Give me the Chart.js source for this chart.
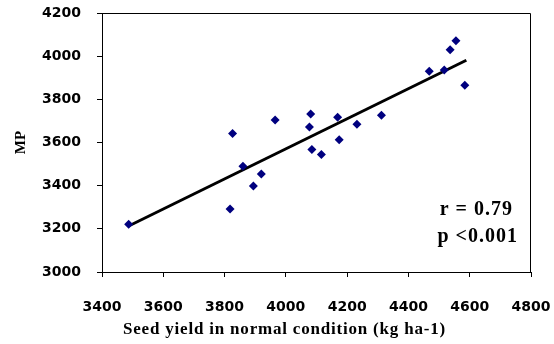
<!DOCTYPE html>
<html>
<head>
<meta charset="utf-8">
<script src="https://cdn.jsdelivr.net/npm/chart.js@4/dist/chart.umd.min.js"></script>
<style>
  body { margin: 0; background: #fff; }
  canvas { display: block; }
</style>
</head>
<body>
<canvas id="mpChart" width="554" height="344"></canvas>
<script>
// seed yield (normal condition) vs MP
const seedYield = [3487, 3826, 3818, 3860, 3894, 3920, 3965, 4077, 4081, 4085,
                   4116, 4169, 4174, 4232, 4312, 4468, 4517, 4536, 4555, 4584];
const mpValues  = [3221, 3642, 3292, 3490, 3398, 3454, 3704, 3672, 3732, 3567,
                   3544, 3717, 3613, 3684, 3726, 3930, 3936, 4030, 4072, 3865];

// regression line end points
const fitX = [3487, 4589];
const fitY = [3213, 3981];

const xTicks = [3400, 3600, 3800, 4000, 4200, 4400, 4600, 4800];
const yTicks = [3000, 3200, 3400, 3600, 3800, 4000, 4200];

const statsText = ["r = 0.79", "p <0.001"];
const xTitle = "Seed yield in normal condition (kg ha-1)";
const yTitle = "MP";

const tickFont = { family: "DejaVu Sans", weight: "bold", size: 14 };

// frame + r/p text + x title
const extras = {
  id: "extras",
  afterDraw: (chart) => {
    const ctx = chart.ctx;
    const a = chart.chartArea;
    ctx.save();
    ctx.strokeStyle = "#000";
    ctx.lineWidth = 1;
    ctx.beginPath();
    ctx.moveTo(a.left, a.top + 0.5);
    ctx.lineTo(a.right - 0.5, a.top + 0.5);
    ctx.lineTo(a.right - 0.5, a.bottom);
    ctx.stroke();

    ctx.fillStyle = "#000";
    ctx.font = "bold 20px 'Liberation Serif'";
    ctx.letterSpacing = "1px";
    ctx.textAlign = "right";
    ctx.textBaseline = "alphabetic";
    ctx.fillText(statsText[0], a.right - 18, a.bottom - 57);
    ctx.fillText(statsText[1], a.right - 13, a.bottom - 30);

    ctx.font = "bold 17px 'Liberation Serif'";
    ctx.letterSpacing = "0.8px";
    ctx.textAlign = "left";
    ctx.fillText(xTitle, a.left + 21, 334);
    ctx.restore();
  }
};

new Chart(document.getElementById("mpChart"), {
  type: "scatter",
  data: {
    datasets: [
      {
        data: seedYield.map((x, i) => ({ x: x, y: mpValues[i] })),
        pointStyle: "rectRot",
        pointRadius: 4.5,
        pointHoverRadius: 4.5,
        backgroundColor: "#00007f",
        borderColor: "#00007f",
        borderWidth: 0
      },
      {
        data: fitX.map((x, i) => ({ x: x, y: fitY[i] })),
        showLine: true,
        borderColor: "#000",
        borderWidth: 3,
        pointRadius: 0
      }
    ]
  },
  options: {
    responsive: false,
    animation: false,
    layout: { padding: { left: 0, right: 23, top: 13, bottom: 0 } },
    plugins: {
      legend: { display: false },
      tooltip: { enabled: false }
    },
    scales: {
      x: {
        type: "linear",
        min: xTicks[0],
        max: xTicks[xTicks.length - 1],
        afterBuildTicks: (s) => { s.ticks = xTicks.map(v => ({ value: v })); },
        afterFit: (s) => { s.height = 72; s.paddingLeft = 0; s.paddingRight = 0; },
        ticks: { font: tickFont, color: "#000", padding: 22, callback: (v) => String(v) },
        grid: { drawOnChartArea: false, drawTicks: true, tickLength: 5, color: "#000" },
        border: { color: "#000", width: 1 }
      },
      y: {
        min: yTicks[0],
        max: yTicks[yTicks.length - 1],
        afterBuildTicks: (s) => { s.ticks = yTicks.map(v => ({ value: v })); },
        afterFit: (s) => { s.width = 102; s.paddingTop = 0; s.paddingBottom = 0; },
        ticks: { font: tickFont, color: "#000", padding: 16, callback: (v) => String(v) },
        grid: { drawOnChartArea: false, drawTicks: true, tickLength: 5, color: "#000" },
        border: { color: "#000", width: 1 },
        title: {
          display: true,
          text: yTitle,
          color: "#000",
          font: { family: "Liberation Serif", weight: "bold", size: 15 },
          padding: { top: 12, bottom: 0 }
        }
      }
    }
  },
  plugins: [extras]
});
</script>
</body>
</html>
